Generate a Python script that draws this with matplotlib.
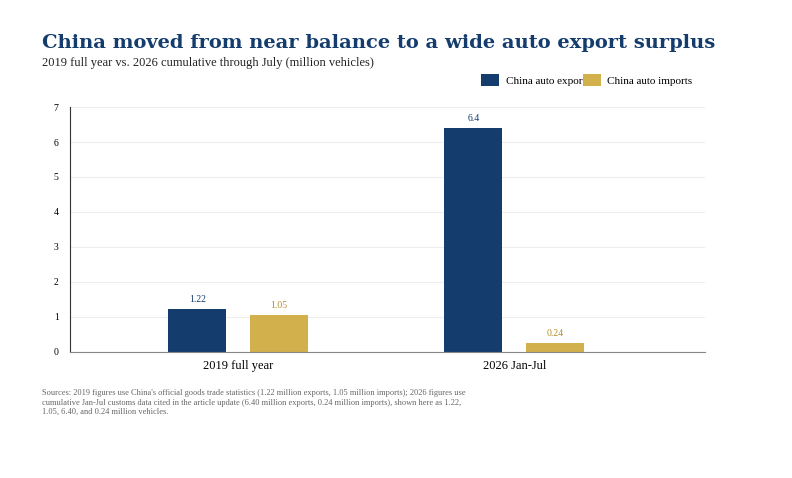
import numpy as np
import matplotlib.pyplot as plt

categories = ["2019 full year", "2026 Jan-Jul"]
exports = [1.22, 6.40]
imports = [1.05, 0.24]
export_labels = ["1.22", "6.4"]
import_labels = ["1.05", "0.24"]

navy = "#143d6e"
gold = "#d2b04c"
plt.rcParams['font.family'] = ['Liberation Serif', 'DejaVu Serif']

fig = plt.figure(figsize=(7.92, 4.78), dpi=100)
ax = fig.add_axes([0.088, 0.264, 0.802, 0.512])

x = np.arange(len(categories))
w = 0.21
off = 0.148
b1 = ax.bar(x - off, exports, w, color=navy, label="China auto exports")
b2 = ax.bar(x + off, imports, w, color=gold, label="China auto imports")
for r, t in zip(b1, export_labels):
    ax.text(r.get_x() + r.get_width() / 2, r.get_height() + 0.15, t,
            ha='center', va='bottom', fontsize=7, color=navy)
for r, t in zip(b2, import_labels):
    ax.text(r.get_x() + r.get_width() / 2, r.get_height() + 0.15, t,
            ha='center', va='bottom', fontsize=7, color="#b08f2a")

ax.set_xlim(-0.61, 1.69)
ax.set_ylim(0, 7)
ax.set_yticks(range(8))
ax.set_xticks(x)
ax.set_xticklabels(categories, fontsize=9)
ax.tick_params(axis='y', labelsize=7, length=0, pad=8)
ax.tick_params(axis='x', length=0, pad=6)
ax.grid(axis='y', color='#ededed', linewidth=0.8)
ax.set_axisbelow(True)
for s in ['top', 'right']:
    ax.spines[s].set_visible(False)
ax.spines['left'].set_color('#333333')
ax.spines['bottom'].set_color('#888888')

fig.text(0.053, 0.9, "China moved from near balance to a wide auto export surplus",
         fontsize=14, fontweight='bold', color=navy, family='DejaVu Serif')
fig.text(0.053, 0.862, "2019 full year vs. 2026 cumulative through July (million vehicles)",
         fontsize=9, color='#222222')
fig.legend(loc='upper left', bbox_to_anchor=(0.595, 0.866), ncol=2, frameon=False,
           fontsize=8, handlelength=1.6, handleheight=1.3, columnspacing=-0.6,
           handletextpad=0.6)
fig.text(0.053, 0.13,
         "Sources: 2019 figures use China's official goods trade statistics (1.22 million exports, 1.05 million imports); 2026 figures use\n"
         "cumulative Jan-Jul customs data cited in the article update (6.40 million exports, 0.24 million imports), shown here as 1.22,\n"
         "1.05, 6.40, and 0.24 million vehicles.",
         fontsize=6, color='#666666', va='bottom', linespacing=1.2)

fig.savefig("out.png", dpi=100)
